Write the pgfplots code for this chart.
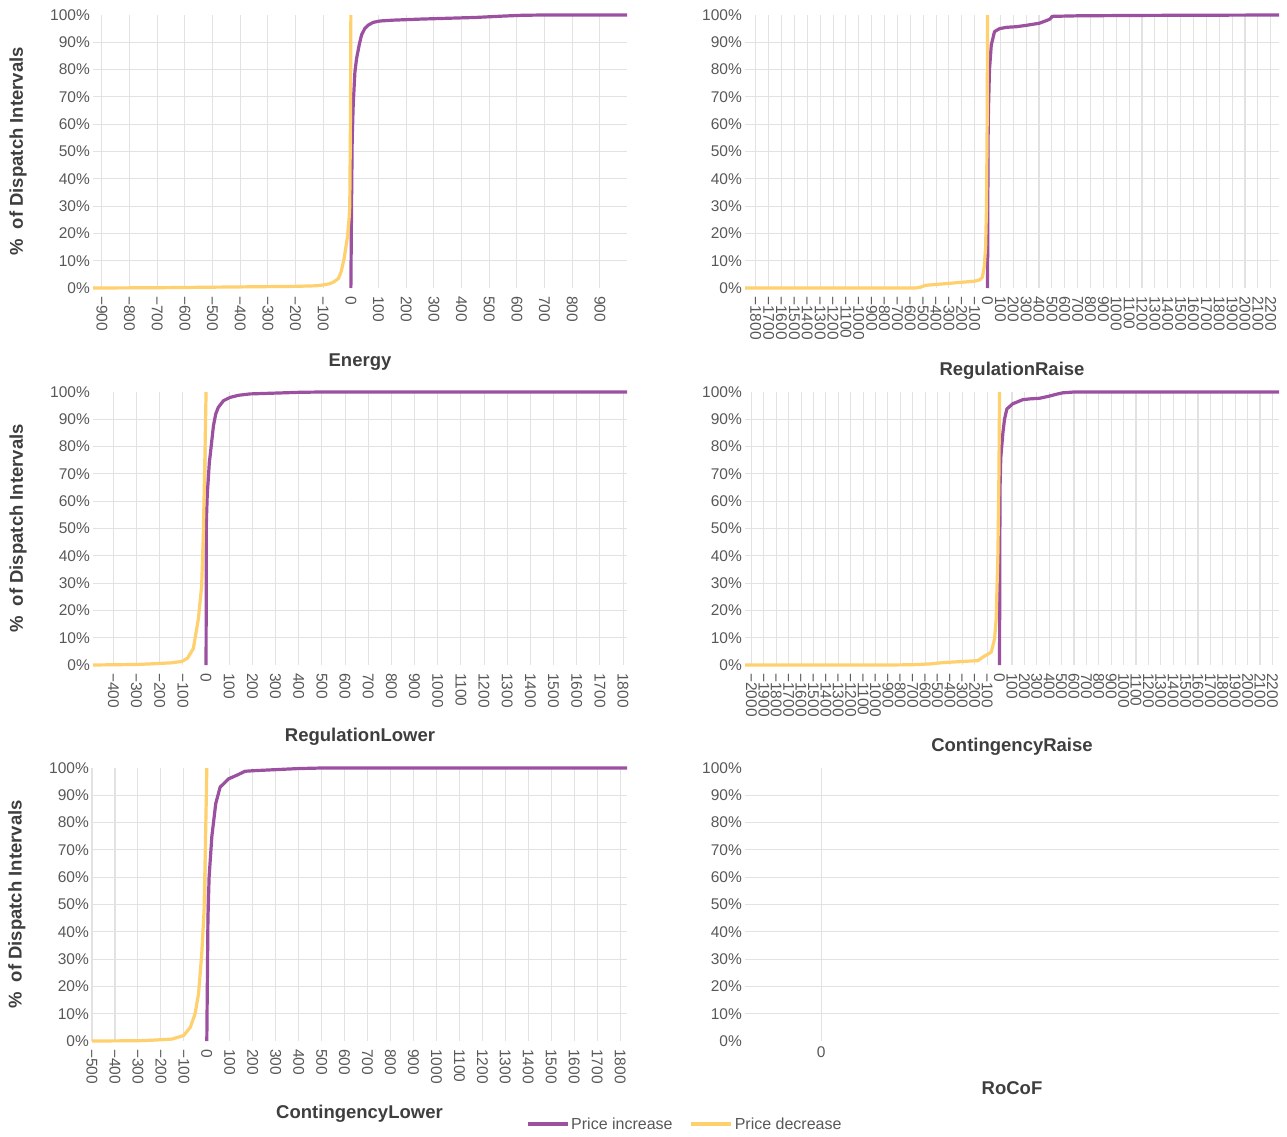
\documentclass[border=0pt]{standalone}
\usepackage{fontspec}
\setmainfont{Liberation Sans}
\usepackage{pgfplots}
\pgfplotsset{compat=1.18}
\definecolor{pinc}{RGB}{155,80,160}
\definecolor{pdec}{RGB}{255,208,110}
\definecolor{gridc}{RGB}{226,226,226}
\definecolor{tickc}{RGB}{88,88,88}
\definecolor{titc}{RGB}{62,62,62}
\pgfplotsset{
  panel/.style={
    scale only axis, width=534pt, height=273pt,
    ymin=0, ymax=100, clip=false,
    /pgf/number format/assume math mode=true,
    ytick={0,10,...,100},
    yticklabel={\pgfmathtruncatemacro\v{round(\tick)}\v\%},
    extra y ticks={10,20,...,90}, extra y tick labels={},
    extra y tick style={ymajorgrids=true},
    xmajorgrids=true,
    grid style={draw=gridc, line width=1.1pt},
    major tick length=0pt, tick style={draw=none},
    axis line style={draw=none},
    yticklabel style={font=\fontsize{15.5}{18}\selectfont, text=tickc, inner sep=0pt},
    yticklabel shift=3pt,
    xticklabel style={font=\fontsize{15.5}{18}\selectfont, text=tickc, inner sep=0pt},
    label style={font=\bfseries\fontsize{18.5}{22}\selectfont, text=titc},
  },
  rotticks/.style={
    xticklabel style={rotate=-90, anchor=west},
    xticklabel shift=8pt,
    xticklabel={\pgfmathtruncatemacro\v{round(\tick)}\ifnum\v<0 −\number\numexpr-\v\relax\else\v\fi},
  },
  leftpanel/.style={ylabel={\%\ \ of Dispatch Intervals},
    ylabel style={at={(axis description cs:-0.1405,0.5)}, anchor=center}},
  inc/.style={draw=pinc, line width=3.2pt, line join=round},
  dec/.style={draw=pdec, line width=3.2pt, line join=round},
}
\begin{document}
\begin{tikzpicture}
\useasboundingbox (0,0) rectangle (1287pt,-1137pt);

% Energy
\begin{axis}[panel, rotticks, leftpanel, at={(93pt,-288pt)}, anchor=south west,
  xmin=-932, xmax=998, xtick={-900,-800,...,900},
  xlabel={Energy}, xlabel style={at={(axis description cs:0.5,-0.2711)}, anchor=center}]
\addplot[inc] coordinates {(0,0) (1.2,15) (2.4,30.4) (4.8,54.8) (8.4,67) (14.5,79) (20.5,84) (30,89) (38.6,92.7) (50.6,95.1) (62.6,96.3) (81,97.3) (105,97.8) (150,98.1) (253,98.5) (350,98.8) (450,99.1) (550,99.6) (620,99.9) (700,100) (998,100)};
\addplot[dec] coordinates {(-932,0) (-700,0.1) (-500,0.3) (-300,0.5) (-200,0.6) (-130,0.8) (-100,1.1) (-75,1.6) (-61,2.3) (-45,3.5) (-35,6) (-24,11) (-12,19) (-6,26) (-4,30) (-2,55) (-1,75) (0,100)};
\end{axis}

% RegulationRaise
\begin{axis}[panel, rotticks, at={(745pt,-288pt)}, anchor=south west,
  xmin=-1884, xmax=2264, xtick={-1800,-1700,...,2200},
  xlabel={RegulationRaise}, xlabel style={at={(axis description cs:0.5,-0.304)}, anchor=center}]
\addplot[inc] coordinates {(0,0) (2,30) (5,60) (8,67) (15,80) (29,89) (54,93.9) (93,95) (150,95.5) (222,95.7) (300,96.2) (403,97) (460,98) (481,98.4) (495,99) (500,99.5) (700,99.7) (1200,99.85) (2264,100)};
\addplot[dec] coordinates {(-1884,0) (-560,0) (-520,0.3) (-480,1) (-450,1.1) (-400,1.3) (-300,1.7) (-200,2.1) (-100,2.5) (-60,3) (-40,4) (-25,8) (-15,15) (-8,30) (-3,60) (0,100)};
\end{axis}

% RegulationLower
\begin{axis}[panel, rotticks, leftpanel, at={(93pt,-665pt)}, anchor=south west,
  xmin=-488, xmax=1817, xtick={-400,-300,...,1800},
  xlabel={RegulationLower}, xlabel style={at={(axis description cs:0.5,-0.2637)}, anchor=center}]
\addplot[inc] coordinates {(0,0) (1.5,53) (5,62) (14,74) (22,80) (32,87.7) (42,92) (53,94.4) (75,96.8) (103,98) (140,98.8) (190,99.3) (300,99.6) (406,99.9) (500,100) (1817,100)};
\addplot[dec] coordinates {(-488,0) (-300,0.2) (-242,0.4) (-150,0.8) (-105,1.3) (-80,2.5) (-55,6) (-33,17) (-19,29) (-12,47) (-6,72) (-2,90) (0,100)};
\end{axis}

% ContingencyRaise
\begin{axis}[panel, rotticks, at={(745pt,-665pt)}, anchor=south west,
  xmin=-2052, xmax=2253, xtick={-2000,-1900,...,2200},
  xlabel={ContingencyRaise}, xlabel style={at={(axis description cs:0.5,-0.3004)}, anchor=center}]
\addplot[inc] coordinates {(0,0) (2,40) (4,65) (10,76) (27,85) (40,90) (59,93.8) (107,95.7) (188,97.2) (250,97.5) (322,97.7) (402,98.5) (460,99.2) (509,99.7) (600,100) (2253,100)};
\addplot[dec] coordinates {(-2052,0) (-900,0) (-700,0.1) (-560,0.4) (-450,0.9) (-295,1.3) (-175,1.6) (-134,2.9) (-67,4.7) (-40,9.6) (-27,17) (-13,41) (-5,70) (0,100)};
\end{axis}

% ContingencyLower
\begin{axis}[panel, rotticks, leftpanel, width=535pt, at={(92pt,-1041pt)}, anchor=south west,
  xmin=-500, xmax=1830, xtick={-500,-400,...,1800},
  xlabel={ContingencyLower}, xlabel style={at={(axis description cs:0.5,-0.2674)}, anchor=center},
  legend columns=2,
  legend style={draw=none, fill=none, at={(axis description cs:1.108,-0.304)}, anchor=center,
    font=\fontsize{16}{19}\selectfont, text=tickc,
    /tikz/every even column/.append style={column sep=15pt}},
  legend image code/.code={\draw[#1] (0pt,0pt) -- (40pt,0pt);}]
\addplot[inc] coordinates {(0,0) (5,45) (10,60) (22,75) (39,87) (58,93) (94,96) (137,97.6) (166,98.8) (200,99) (300,99.4) (400,99.8) (500,100) (1830,100)};
\addlegendentry{Price increase}
\addplot[dec] coordinates {(-500,0) (-300,0.1) (-238,0.3) (-152,0.7) (-101,2) (-72,5) (-51,10) (-36,17.3) (-22,32) (-12,47.6) (-6,72) (-2,90) (0,100)};
\addlegendentry{Price decrease}
\end{axis}

% RoCoF
\begin{axis}[panel, at={(745pt,-1041pt)}, anchor=south west,
  xmin=-1, xmax=6, xtick={0}, xticklabel={0},
  xticklabel style={anchor=north}, xticklabel shift=5pt,
  xlabel={RoCoF}, xlabel style={at={(axis description cs:0.5,-0.1722)}, anchor=center}]
\end{axis}
\end{tikzpicture}
\end{document}
